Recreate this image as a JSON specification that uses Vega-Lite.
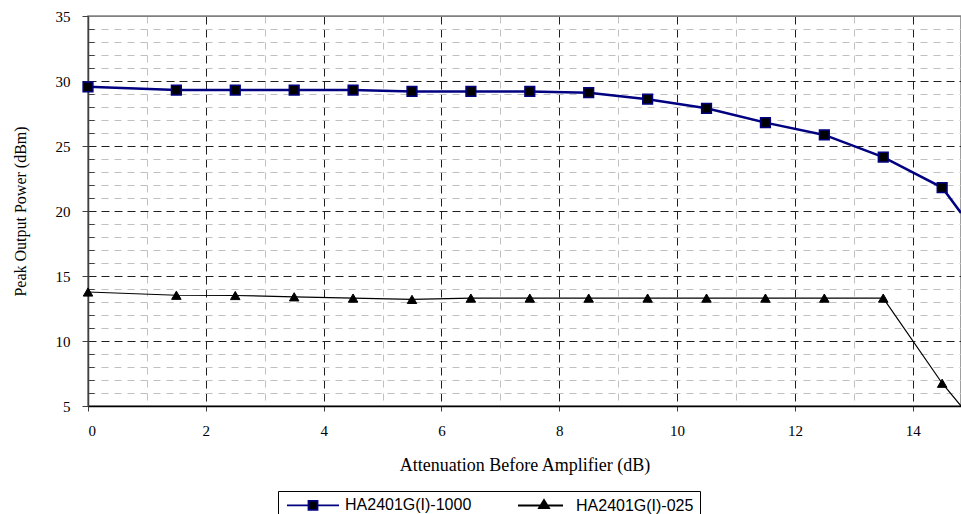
{
  "$schema": "https://vega.github.io/schema/vega-lite/v6.json",
  "autosize": {"type": "none"},
  "padding": {"left": 88, "top": 16, "right": 0, "bottom": 108},
  "width": 873,
  "height": 390,
  "background": "white",
  "config": {
    "view": {"stroke": "#808080", "strokeWidth": 1.5},
    "font": "Liberation Serif"
  },
  "data": {
    "values": [
      {"series": "HA2401G(I)-1000", "x": 0, "y": 29.55},
      {"series": "HA2401G(I)-1000", "x": 1.5, "y": 29.3},
      {"series": "HA2401G(I)-1000", "x": 2.5, "y": 29.3},
      {"series": "HA2401G(I)-1000", "x": 3.5, "y": 29.3},
      {"series": "HA2401G(I)-1000", "x": 4.5, "y": 29.3},
      {"series": "HA2401G(I)-1000", "x": 5.5, "y": 29.2},
      {"series": "HA2401G(I)-1000", "x": 6.5, "y": 29.2},
      {"series": "HA2401G(I)-1000", "x": 7.5, "y": 29.2},
      {"series": "HA2401G(I)-1000", "x": 8.5, "y": 29.1},
      {"series": "HA2401G(I)-1000", "x": 9.5, "y": 28.6},
      {"series": "HA2401G(I)-1000", "x": 10.5, "y": 27.9},
      {"series": "HA2401G(I)-1000", "x": 11.5, "y": 26.8},
      {"series": "HA2401G(I)-1000", "x": 12.5, "y": 25.85},
      {"series": "HA2401G(I)-1000", "x": 13.5, "y": 24.15},
      {"series": "HA2401G(I)-1000", "x": 14.5, "y": 21.8},
      {"series": "HA2401G(I)-1000", "x": 14.82, "y": 19.85, "edge": true},
      {"series": "HA2401G(I)-025", "x": 0, "y": 13.77},
      {"series": "HA2401G(I)-025", "x": 1.5, "y": 13.52},
      {"series": "HA2401G(I)-025", "x": 2.5, "y": 13.5},
      {"series": "HA2401G(I)-025", "x": 3.5, "y": 13.4},
      {"series": "HA2401G(I)-025", "x": 4.5, "y": 13.3},
      {"series": "HA2401G(I)-025", "x": 5.5, "y": 13.2},
      {"series": "HA2401G(I)-025", "x": 6.5, "y": 13.3},
      {"series": "HA2401G(I)-025", "x": 7.5, "y": 13.3},
      {"series": "HA2401G(I)-025", "x": 8.5, "y": 13.3},
      {"series": "HA2401G(I)-025", "x": 9.5, "y": 13.3},
      {"series": "HA2401G(I)-025", "x": 10.5, "y": 13.3},
      {"series": "HA2401G(I)-025", "x": 11.5, "y": 13.3},
      {"series": "HA2401G(I)-025", "x": 12.5, "y": 13.3},
      {"series": "HA2401G(I)-025", "x": 13.5, "y": 13.3},
      {"series": "HA2401G(I)-025", "x": 14.5, "y": 6.75},
      {"series": "HA2401G(I)-025", "x": 14.82, "y": 5.0, "edge": true}
    ]
  },
  "resolve": {"axis": {"x": "independent", "y": "independent"}},
  "layer": [
    {
      "transform": [{"filter": "datum.series === 'HA2401G(I)-1000'"}],
      "mark": {"type": "line", "color": "#000080", "strokeWidth": 2.5, "clip": true},
      "encoding": {
        "x": {"field": "x", "type": "quantitative", "scale": {"domain": [0, 14.82], "nice": false, "zero": false},
          "axis": {"orient": "bottom", "values": [1, 3, 5, 7, 9, 11, 13], "grid": true, "gridColor": "#c0c0c0", "gridDash": [7, 6], "gridWidth": 1, "labels": false, "ticks": false, "domain": false, "title": null}},
        "y": {"field": "y", "type": "quantitative", "scale": {"domain": [5, 35], "nice": false, "zero": false},
          "axis": {"orient": "left", "values": [6, 7, 8, 9, 11, 12, 13, 14, 16, 17, 18, 19, 21, 22, 23, 24, 26, 27, 28, 29, 31, 32, 33, 34], "grid": true, "gridColor": "#c0c0c0", "gridDash": [7, 6], "gridWidth": 1, "labels": false, "ticks": true, "tickSize": -6, "tickColor": "#404040", "domain": false, "title": null}}
      }
    },
    {
      "transform": [{"filter": "datum.series === 'HA2401G(I)-025'"}],
      "mark": {"type": "line", "color": "black", "strokeWidth": 1.2, "clip": true},
      "encoding": {
        "x": {"field": "x", "type": "quantitative", "axis": null},
        "y": {"field": "y", "type": "quantitative", "axis": null}
      }
    },
    {
      "transform": [{"filter": "datum.series === 'HA2401G(I)-1000' && !datum.edge"}],
      "mark": {"type": "point", "shape": "square", "filled": true, "fill": "black", "stroke": "#000080", "strokeWidth": 1.5, "size": 95, "opacity": 1},
      "encoding": {
        "x": {"field": "x", "type": "quantitative",
          "axis": {"orient": "bottom", "values": [0, 2, 4, 6, 8, 10, 12, 14], "grid": true, "gridColor": "#202020", "gridDash": [8, 5], "gridWidth": 1,
            "domain": true, "domainColor": "black", "domainWidth": 1.5, "ticks": true, "tickSize": 5, "tickColor": "#404040",
            "labelFont": "Liberation Serif", "labelFontSize": 15, "labelColor": "black", "labelPadding": 12,
            "title": "Attenuation Before Amplifier (dB)", "titleFont": "Liberation Serif", "titleFontSize": 18, "titleFontWeight": "normal", "titleColor": "black", "titlePadding": 18}},
        "y": {"field": "y", "type": "quantitative",
          "axis": {"orient": "left", "values": [5, 10, 15, 20, 25, 30, 35], "grid": true,
            "gridColor": {"condition": {"test": "datum.value === 35", "value": "#808080"}, "value": "#202020"},
            "gridDash": {"condition": {"test": "datum.value === 35", "value": []}, "value": [8, 5]}, "gridWidth": 1,
            "domain": true, "domainColor": "#404040", "domainWidth": 1.5, "ticks": true, "tickSize": 6, "tickColor": "#404040",
            "labelFont": "Liberation Serif", "labelFontSize": 15, "labelColor": "black", "labelPadding": 12,
            "title": "Peak Output Power (dBm)", "titleFont": "Liberation Serif", "titleFontSize": 16, "titleFontWeight": "normal", "titleColor": "black", "titlePadding": 27}}
      }
    },
    {
      "transform": [{"filter": "datum.series === 'HA2401G(I)-025' && !datum.edge"}],
      "mark": {"type": "point", "shape": "triangle-up", "filled": true, "fill": "black", "stroke": "black", "strokeWidth": 1, "size": 90, "opacity": 1},
      "encoding": {
        "x": {"field": "x", "type": "quantitative", "axis": null},
        "y": {"field": "y", "type": "quantitative", "axis": null}
      }
    },
    {
      "transform": [{"filter": "datum.x < -100"}],
      "mark": {"type": "point", "filled": true, "fill": "black", "opacity": 1},
      "encoding": {
        "x": {"field": "x", "type": "quantitative", "axis": null},
        "y": {"field": "y", "type": "quantitative", "axis": null},
        "stroke": {"field": "series", "type": "nominal",
          "scale": {"domain": ["HA2401G(I)-1000", "HA2401G(I)-025"], "range": ["#000080", "black"]},
          "legend": {
            "orient": "none", "legendX": 190, "legendY": 475, "direction": "horizontal", "title": null,
            "strokeColor": "black", "fillColor": "white", "padding": 6,
            "symbolSize": 100, "symbolOpacity": 1, "symbolFillColor": "black", "symbolStrokeWidth": 1.8,
            "labelFont": "Liberation Sans", "labelFontSize": 16, "labelColor": "black", "labelOffset": 45, "columnPadding": 42
          }},
        "shape": {"field": "series", "type": "nominal",
          "scale": {"domain": ["HA2401G(I)-1000", "HA2401G(I)-025"],
            "range": ["M-1,0H3.3M5.1,0H9.4M3.3,-0.9H5.1V0.9H3.3Z", "M-1,0H8M4.2,-1.1L5.2,0.5H3.2Z"]},
          "legend": {
            "orient": "none", "legendX": 190, "legendY": 475, "direction": "horizontal", "title": null,
            "strokeColor": "black", "fillColor": "white", "padding": 6,
            "symbolSize": 100, "symbolOpacity": 1, "symbolFillColor": "black", "symbolStrokeWidth": 1.8,
            "labelFont": "Liberation Sans", "labelFontSize": 16, "labelColor": "black", "labelOffset": 45, "columnPadding": 42
          }}
      }
    }
  ]
}
